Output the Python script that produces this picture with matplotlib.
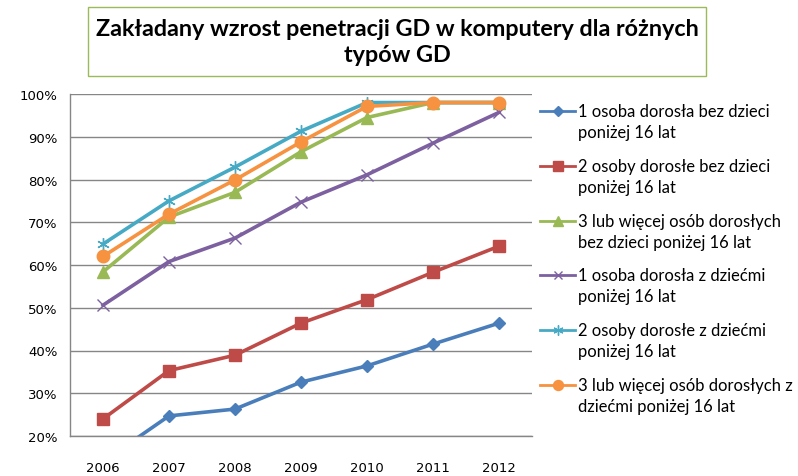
import numpy as np
import matplotlib.pyplot as plt
from matplotlib.lines import Line2D
from matplotlib.patches import Rectangle

lata = ["2006", "2007", "2008", "2009", "2010", "2011", "2012"]

jedna_bez = [14.0, 24.7, 26.3, 32.6, 36.4, 41.5, 46.4]
dwie_bez = [24.0, 35.3, 38.9, 46.4, 51.9, 58.3, 64.4]
trzy_bez = [58.4, 71.2, 77.0, 86.5, 94.5, 98.0, 98.0]
jedna_z = [50.6, 60.8, 66.3, 74.7, 81.1, 88.5, 95.7]
dwie_z = [64.9, 75.0, 82.9, 91.3, 98.0, 98.0, 98.0]
trzy_z = [62.0, 71.9, 79.9, 88.8, 97.1, 98.0, 98.0]

etykiety = [
    "1 osoba dorosła bez dzieci\nponiżej 16 lat",
    "2 osoby dorosłe bez dzieci\nponiżej 16 lat",
    "3 lub więcej osób dorosłych\nbez dzieci poniżej 16 lat",
    "1 osoba dorosła z dziećmi\nponiżej 16 lat",
    "2 osoby dorosłe z dziećmi\nponiżej 16 lat",
    "3 lub więcej osób dorosłych z\ndziećmi poniżej 16 lat",
]

serie = [jedna_bez, dwie_bez, trzy_bez, jedna_z, dwie_z, trzy_z]
style = [
    dict(color="#4A7EBB", marker="D", ms=6.5),
    dict(color="#BE4B48", marker="s", ms=8.5),
    dict(color="#98B954", marker="^", ms=8.5),
    dict(color="#7D60A0", marker="x", ms=8, mew=1),
    dict(color="#46AAC5", marker=(6, 2, 0), ms=9, mew=1),
    dict(color="#F69240", marker="o", ms=9),
]

plt.rcParams["font.family"] = ["DejaVu Sans"]

fig = plt.figure(figsize=(7.98, 4.77), dpi=100)
ax = fig.add_axes([70 / 798, 1 - 437 / 477, 462 / 798, 342 / 477])

x = np.arange(len(lata))
for y, st in zip(serie, style):
    ax.plot(x, y, lw=2.6, **st)

ax.set_xlim(-0.5, 6.5)
ax.set_ylim(20, 100)
ax.set_xticks(x)
ax.set_xticklabels(lata)
ax.set_yticks(range(20, 101, 10))
ax.set_yticklabels([f"{v}%" for v in range(20, 101, 10)])
ax.tick_params(axis="x", length=0, pad=18, labelsize=9.5)
ax.tick_params(axis="y", length=0, pad=9, labelsize=9.5)
ax.grid(axis="y", color="#868686", lw=1)
ax.set_axisbelow(True)
for s in ["top", "right"]:
    ax.spines[s].set_visible(False)
for s in ["left", "bottom"]:
    ax.spines[s].set_color("#868686")
    ax.spines[s].set_linewidth(1)

# legenda rysowana recznie, znacznik przy pierwszej linii jak w Excelu
for i, (lab, st) in enumerate(zip(etykiety, style)):
    y0 = 1 - (112 + i * 54.8) / 477
    smal = dict(st)
    smal["ms"] = st["ms"] * 0.8
    fig.add_artist(Line2D([540 / 798, 557.5 / 798, 575 / 798], [y0, y0, y0],
                          lw=2, markevery=[1], transform=fig.transFigure, **smal))
    l1, l2 = lab.split("\n")
    fig.text(578 / 798, y0, l1, va="center", ha="left", family="Lato", fontsize=11.9)
    fig.text(578 / 798, y0 - 21 / 477, l2, va="center", ha="left", family="Lato", fontsize=11.9)

fig.patches.append(Rectangle((88 / 798, 1 - 77 / 477), 618 / 798, 69 / 477,
                             transform=fig.transFigure, fill=False,
                             edgecolor="#9BBB59", lw=1))
fig.text(397 / 798, 1 - 42.5 / 477,
         "Zakładany wzrost penetracji GD w komputery dla różnych\ntypów GD",
         ha="center", va="center", family="Lato", weight="bold", fontsize=16.8,
         linespacing=1.3)

fig.savefig("out.png", dpi=100)
